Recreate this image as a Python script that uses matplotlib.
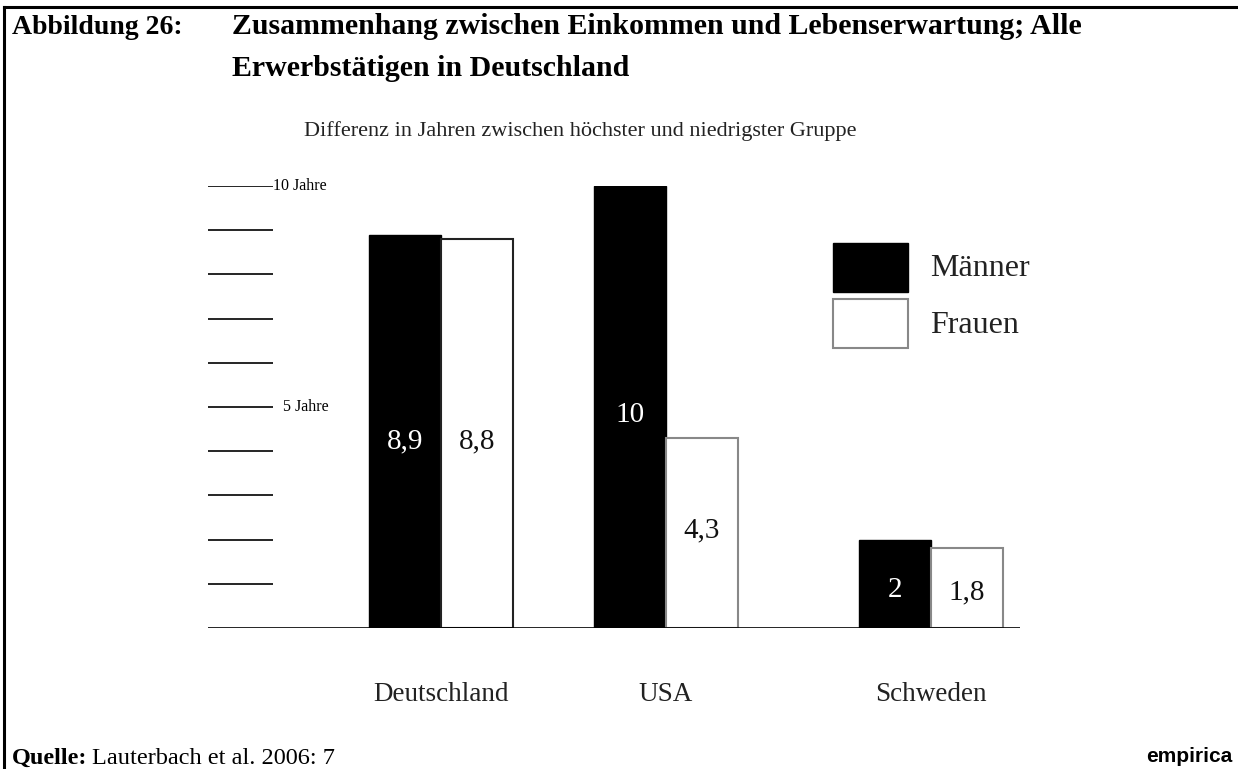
import matplotlib
matplotlib.use('Agg')
import matplotlib.pyplot as plt
from matplotlib.patches import Rectangle
from matplotlib.lines import Line2D

# Daten
laender = ['Deutschland', 'USA', 'Schweden']
maenner = [8.9, 10, 2]
frauen = [8.8, 4.3, 1.8]
maenner_txt = ['8,9', '10', '2']
frauen_txt = ['8,8', '4,3', '1,8']

# Layout (Gruppenmitte in Balkenbreiten, Höhe der Zahlen im Balken)
gruppen_x = [3.24, 6.36, 10.04]
maenner_txt_y = [4.23, 4.82, 0.86]
frauen_txt_y = [4.23, 2.22, 0.81]
frauen_rand = ['#222222', '#888888', '#888888']

W, H = 1238, 769
fig = plt.figure(figsize=(W / 100, H / 100), dpi=100)
serif = 'Liberation Serif'
r = fig.canvas.get_renderer()

# Rahmen oben und links
fig.add_artist(Line2D([4 / W, 1], [1 - 7 / H, 1 - 7 / H], color='black', lw=2.2))
fig.add_artist(Line2D([4 / W, 4 / W], [0, 1 - 7 / H], color='black', lw=2.2))

# Titel
fig.text(12 / W, 1 - 27 / H, 'Abbildung 26:', fontsize=20, fontweight='bold',
         family=serif, va='center', ha='left')
fig.text(232 / W, 1 - 27 / H, 'Zusammenhang zwischen Einkommen und Lebenserwartung; Alle',
         fontsize=21.5, fontweight='bold', family=serif, va='center', ha='left')
fig.text(232 / W, 1 - 68 / H, 'Erwerbstätigen in Deutschland',
         fontsize=21.5, fontweight='bold', family=serif, va='center', ha='left')
fig.text(580 / W, 1 - 131 / H, 'Differenz in Jahren zwischen höchster und niedrigster Gruppe',
         fontsize=16, family=serif, va='center', ha='center', color='#222222')

# Diagramm
ax = fig.add_axes([208 / W, (H - 628) / H, 812 / W, 442 / H])
ax.set_xlim(0, 812 / 72)
ax.set_ylim(0, 10)
ax.axis('off')

breite = 1.0
for i in range(len(laender)):
    gx = gruppen_x[i]
    ax.bar(gx - breite / 2, maenner[i], breite, color='black', edgecolor='black', lw=1)
    ax.bar(gx + breite / 2, frauen[i], breite, color='white', edgecolor=frauen_rand[i], lw=1.5)
    ax.text(gx - breite / 2, maenner_txt_y[i], maenner_txt[i], color='white', fontsize=21,
            family=serif, ha='center', va='center')
    ax.text(gx + breite / 2, frauen_txt_y[i], frauen_txt[i], color='#111111', fontsize=21,
            family=serif, ha='center', va='center')
    ax.text(gx, -1.5, laender[i], fontsize=19.5, family=serif, ha='center', va='center',
            color='#222222', clip_on=False)

# Skalenstriche
ax.hlines(range(1, 11), 0, 65 / 72, color='black', lw=1.2)
ax.axhline(0, color='black', lw=1.2)
ax.text(65 / 72, 10, '10 Jahre', fontsize=11.5, family=serif, ha='left', va='center')
ax.text(75 / 72, 5, '5 Jahre', fontsize=11.5, family=serif, ha='left', va='center')

# Legende
fig.add_artist(Rectangle((833 / W, 1 - 292 / H), 75 / W, 49 / H, transform=fig.transFigure,
                         facecolor='black', edgecolor='black', lw=1))
fig.add_artist(Rectangle((833 / W, 1 - 348 / H), 75 / W, 49 / H, transform=fig.transFigure,
                         facecolor='white', edgecolor='#888888', lw=1.5))
fig.text(930 / W, 1 - 268 / H, 'Männer', fontsize=23, family=serif, va='center', ha='left',
         color='#222222')
fig.text(930 / W, 1 - 325 / H, 'Frauen', fontsize=23, family=serif, va='center', ha='left',
         color='#222222')

# Quelle
q = fig.text(12 / W, 1 - 758 / H, 'Quelle:', fontsize=17.5, fontweight='bold', family=serif,
             va='center', ha='left')
bb = q.get_window_extent(renderer=r)
fig.text(bb.x1 / W + 5 / W, 1 - 758 / H, 'Lauterbach et al. 2006: 7', fontsize=17.5,
         family=serif, va='center', ha='left')
fig.text(1232 / W, 1 - 757 / H, 'empirica', fontsize=15, fontweight='bold',
         family='Liberation Sans', va='center', ha='right')

fig.savefig('out.png', dpi=100)
